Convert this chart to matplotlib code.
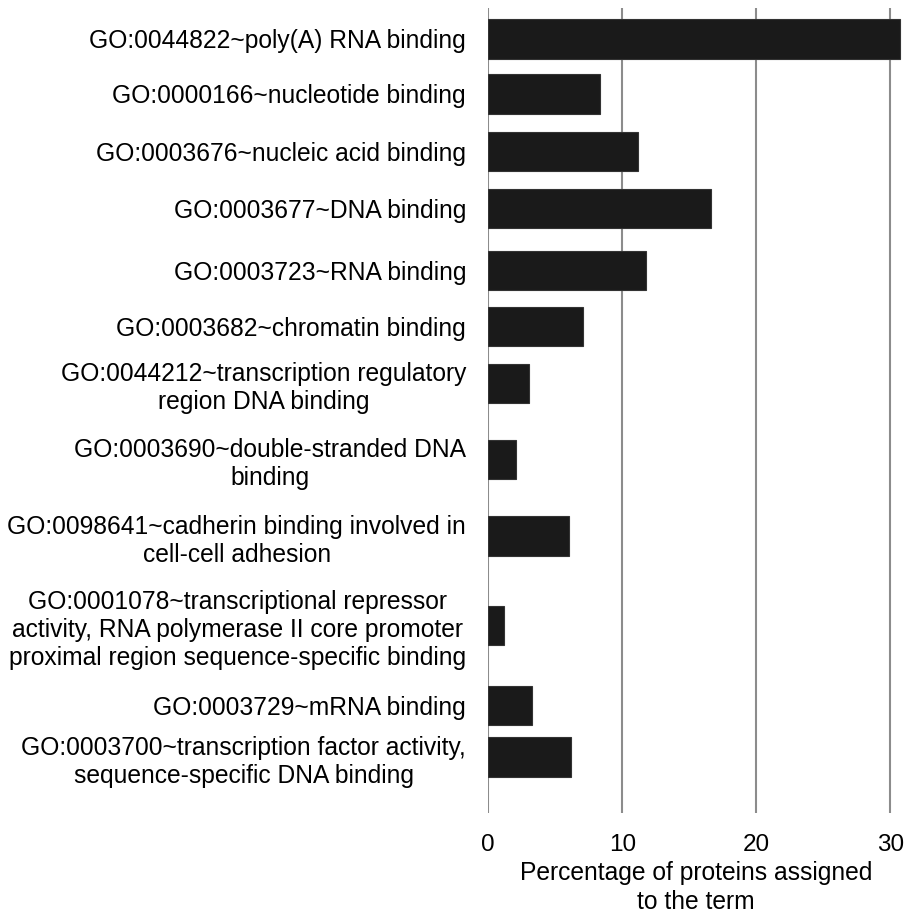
import matplotlib
matplotlib.use("Agg")
import matplotlib.pyplot as plt

# GO molecular-function terms and the share of proteins assigned to each
terms = [
    "GO:0044822~poly(A) RNA binding",
    "GO:0000166~nucleotide binding",
    "GO:0003676~nucleic acid binding",
    "GO:0003677~DNA binding",
    "GO:0003723~RNA binding",
    "GO:0003682~chromatin binding",
    "GO:0044212~transcription regulatory\nregion DNA binding",
    "GO:0003690~double-stranded DNA\nbinding",
    "GO:0098641~cadherin binding involved in\ncell-cell adhesion",
    "GO:0001078~transcriptional repressor\nactivity, RNA polymerase II core promoter\nproximal region sequence-specific binding",
    "GO:0003729~mRNA binding",
    "GO:0003700~transcription factor activity,\nsequence-specific DNA binding",
]
percentages = [30.7, 8.3, 11.15, 16.6, 11.75, 7.1, 3.05, 2.1, 6.05, 1.15, 3.25, 6.2]
x_ticks = [0, 10, 20, 30]

# vertical placement of the rows (top to bottom), in layout units
row_pos = [38.8, 93.8, 151.7, 208.5, 270.5, 326.5, 383.3, 459.3, 536.0, 625.3, 705.3, 757.0]
bar_h = 39.5

W, H = 909, 913
fig = plt.figure(figsize=(W / 100, H / 100), dpi=100)
left, right, top, bottom = 488.3, 903.7, 8, 813
ax = fig.add_axes([left / W, 1 - bottom / H, (right - left) / W, (bottom - top) / H])

font = "Liberation Sans"

ax.barh(row_pos, percentages, height=bar_h, color="#1a1a1a",
        edgecolor="#333333", linewidth=0.8, zorder=3)

ax.set_xlim(0, 31)
ax.set_ylim(813, 8)
ax.set_xticks(x_ticks)
ax.set_xticklabels([str(t) for t in x_ticks], fontsize=17.5, family=font)
ax.set_yticks(row_pos)
ax.set_yticklabels(terms, fontsize=17.7, family=font, multialignment="center",
                   linespacing=1.22)
ax.tick_params(axis="y", length=0, pad=16)
ax.tick_params(axis="x", length=0, pad=15)

for t in x_ticks:
    ax.axvline(t, color="#8c8c8c", linewidth=1.5, zorder=1)

for s in ax.spines.values():
    s.set_visible(False)

ax.set_xlabel("Percentage of proteins assigned\nto the term", fontsize=17.7,
              family=font, labelpad=4, linespacing=1.22)

fig.savefig("out.png", dpi=100, facecolor="white")
